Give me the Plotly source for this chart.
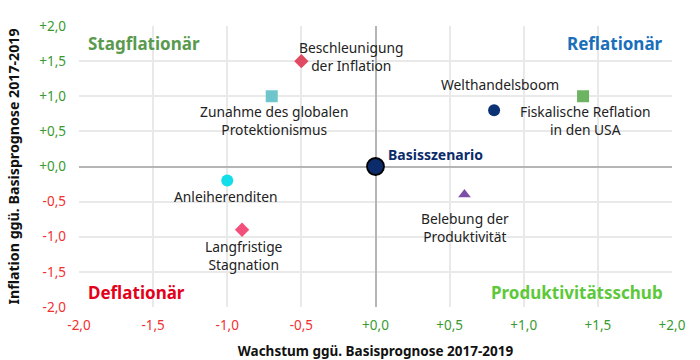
import plotly.graph_objects as go

# ---- data ----
scenarios = ["Basisszenario", "Welthandelsboom", "Fiskalische Reflation<br>in den USA",
             "Beschleunigung<br>der Inflation", "Zunahme des globalen<br>Protektionismus",
             "Anleiherenditen", "Langfristige<br>Stagnation", "Belebung der<br>Produktivität"]
growth = [0.0, 0.8, 1.4, -0.5, -0.7, -1.0, -0.9, 0.6]
inflation = [0.0, 0.8, 1.0, 1.5, 1.0, -0.2, -0.9, -0.4]
tick_vals = [-2.0, -1.5, -1.0, -0.5, 0.0, 0.5, 1.0, 1.5, 2.0]
tick_labels = ["-2,0", "-1,5", "-1,0", "-0,5", "+0,0", "+0,5", "+1,0", "+1,5", "+2,0"]
quadrants = ["Stagflationär", "Reflationär", "Deflationär", "Produktivitätsschub"]

# ---- styles ----
colors = ["#0b2b6b", "#0b3275", "#6db462", "#e04a62", "#6fc5cc", "#12dde8", "#f24f7a", "#7b4ea8"]
symbols = ["circle", "circle", "square", "diamond", "square", "circle", "diamond", "triangle-up"]
sizes = [17, 12, 12, 11, 12, 12, 11, 11]
line_w = [1.8, 0, 0, 0, 0, 0, 0, 0]
# label offsets in px (xshift, yshift), anchors
lab_pos = [(10, 12, "left"), (6, 26, "center"), (2, -24, "center"), (50, 5, "center"),
           (2, -24, "center"), (-1, -16, "center"), (2, -26, "center"), (1, -33, "center")]
quad_pos = [(-1.95, 1.75, "left"), (1.95, 1.75, "right"), (-1.95, -1.8, "left"), (1.95, -1.8, "right")]
quad_col = ["#5a9a4e", "#1a6fba", "#e3001b", "#5cc83a"]

GREEN = "#3a9a30"
RED = "#f03030"
def col_ticks(labels):
    return [f"<span style='color:{GREEN if l.startswith('+') else RED}'>{l}</span>" for l in labels]

FONT = "Noto Sans"
fig = go.Figure()
fig.add_trace(go.Scatter(
    x=growth, y=inflation, mode="markers",
    marker=dict(color=colors, symbol=symbols, size=sizes, opacity=1,
                line=dict(color="black", width=line_w)),
    hovertext=scenarios, hoverinfo="text", showlegend=False, cliponaxis=False))

ann = []
for i, name in enumerate(scenarios):
    xs, ys, anc = lab_pos[i]
    bold = i == 0
    ann.append(dict(x=growth[i], y=inflation[i], text=f"<b>{name}</b>" if bold else name,
                    showarrow=False, xshift=xs, yshift=ys, xanchor=anc, yanchor="middle",
                    align="center",
                    font=dict(family=FONT, size=13.8 if not bold else 14,
                              color="#0b2b6b" if bold else "#222222")))
for i, q in enumerate(quadrants):
    qx, qy, anc = quad_pos[i]
    ann.append(dict(x=qx, y=qy, text=f"<b>{q}</b>", showarrow=False, xanchor=anc,
                    yanchor="middle", font=dict(family=FONT, size=17, color=quad_col[i])))

axis_common = dict(range=[-2, 2], tickvals=tick_vals, ticktext=col_ticks(tick_labels),
                   showgrid=True, gridcolor="#e9e9e9", gridwidth=1.5,
                   zeroline=True, zerolinecolor="#b5b5b5", zerolinewidth=1.5,
                   showline=False, ticks="", tickfont=dict(family=FONT, size=13.5),
                   fixedrange=True, automargin=False)
fig.update_layout(
    width=700, height=360, margin=dict(l=79, r=28, t=26, b=53),
    paper_bgcolor="white", plot_bgcolor="white",
    font=dict(family=FONT, color="#222222"),
    xaxis=dict(**axis_common, ticklabelstandoff=8,
               title=dict(text="<b>Wachstum ggü. Basisprognose 2017-2019</b>",
                          font=dict(family=FONT, size=13.5, color="#111111"), standoff=14)),
    yaxis=dict(**axis_common, ticklabelstandoff=12,
               title=dict(text="<b>Inflation ggü. Basisprognose 2017-2019</b>",
                          font=dict(family=FONT, size=14.2, color="#111111"), standoff=16)),
    annotations=ann)

fig.write_html("out.html", config={"displayModeBar": False},
               post_script="document.body.style.margin='0';document.body.style.overflow='hidden';")
